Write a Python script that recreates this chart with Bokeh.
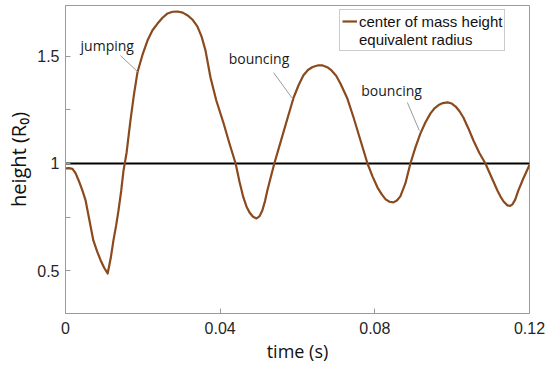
from bokeh.plotting import figure
from bokeh.models import Range1d, FixedTicker, Legend, LegendItem
from bokeh.core.properties import value
from bokeh.embed import file_html
from bokeh.resources import INLINE

# ---- data ----
time_s = [0.0, 0.0009, 0.0018, 0.0026, 0.0034, 0.0043, 0.0052, 0.0062, 0.0072,
          0.0082, 0.0091, 0.0100, 0.0109, 0.0117, 0.0124, 0.0131, 0.0137,
          0.0144, 0.0150, 0.0158, 0.0168, 0.0177, 0.0186, 0.0199, 0.0212,
          0.0225, 0.0238, 0.0251, 0.0264, 0.0277, 0.0290, 0.0303, 0.0315,
          0.0328, 0.0341, 0.0352, 0.0362, 0.0375, 0.0390, 0.0409, 0.0424,
          0.0440, 0.0450, 0.0460, 0.0468, 0.0476, 0.0485, 0.0494, 0.0502,
          0.0509, 0.0516, 0.0522, 0.0531, 0.0540, 0.0556, 0.0574, 0.0590,
          0.0603, 0.0615, 0.0627, 0.0639, 0.0652, 0.0665, 0.0677, 0.0688,
          0.0700, 0.0711, 0.0729, 0.0745, 0.0763, 0.0781, 0.0794, 0.0807,
          0.0818, 0.0828, 0.0838, 0.0848, 0.0857, 0.0866, 0.0879, 0.0892,
          0.0905, 0.0918, 0.0931, 0.0944, 0.0955, 0.0965, 0.0976, 0.0988,
          0.0999, 0.1009, 0.1019, 0.1029, 0.1042, 0.1055, 0.1070, 0.1086,
          0.1102, 0.1117, 0.1125, 0.1133, 0.1143, 0.1150, 0.1156, 0.1163,
          0.1171, 0.1184, 0.1197, 0.1200]
com_height = [0.977, 0.978, 0.975, 0.955, 0.921, 0.878, 0.828, 0.735, 0.642,
              0.590, 0.549, 0.515, 0.488, 0.560, 0.642, 0.712, 0.781,
              0.872, 0.967, 1.050, 1.200, 1.320, 1.423, 1.505, 1.572,
              1.620, 1.651, 1.678, 1.698, 1.706, 1.707, 1.702, 1.690,
              1.670, 1.638, 1.590, 1.526, 1.400, 1.293, 1.186, 1.093,
              1.000, 0.915, 0.842, 0.800, 0.772, 0.752, 0.744, 0.755,
              0.781, 0.825, 0.874, 0.937, 1.000, 1.098, 1.209, 1.307,
              1.365, 1.409, 1.435, 1.449, 1.456, 1.456, 1.448, 1.433,
              1.408, 1.372, 1.302, 1.214, 1.107, 1.000, 0.940, 0.888,
              0.856, 0.833, 0.822, 0.819, 0.828, 0.847, 0.907, 1.000,
              1.075, 1.140, 1.192, 1.233, 1.258, 1.272, 1.281, 1.284,
              1.279, 1.265, 1.243, 1.214, 1.163, 1.107, 1.050, 1.000,
              0.935, 0.874, 0.846, 0.823, 0.805, 0.803, 0.810, 0.832,
              0.874, 0.930, 0.981, 0.995]
equiv_radius = 1.0

x_ticks = [0, 0.04, 0.08, 0.12]
x_tick_labels = ["0", "0.04", "0.08", "0.12"]
y_ticks = [0.5, 0.75, 1.0, 1.25, 1.5]
y_tick_labels = ["0.5", "", "1", "", "1.5"]

ann_text = ["jumping", "bouncing", "bouncing"]
ann_x = [0.0039, 0.0422, 0.0765]
ann_y = [1.549, 1.488, 1.340]
lead_x0 = [0.0142, 0.0538, 0.0884]
lead_y0 = [1.502, 1.423, 1.284]
lead_x1 = [0.0189, 0.0587, 0.0915]
lead_y1 = [1.423, 1.302, 1.153]

AXIS_GRAY = "#9a9a9a"
TXT = "#262626"
BROWN = "#8a4a1e"

p = figure(width=550, height=367, output_backend="svg", toolbar_location=None,
           x_range=Range1d(0, 0.12), y_range=Range1d(0.302, 1.735),
           min_border_left=65, min_border_right=21, min_border_top=5,
           min_border_bottom=54)
p.grid.visible = False
p.outline_line_color = AXIS_GRAY
p.outline_line_width = 1
p.background_fill_color = "white"
p.border_fill_color = "white"

for ax in (p.xaxis[0], p.yaxis[0]):
    ax.axis_line_color = AXIS_GRAY
    ax.major_tick_line_color = AXIS_GRAY
    ax.major_tick_in = 5
    ax.major_tick_out = 0
    ax.minor_tick_line_color = None
    ax.major_label_text_font = "Liberation Sans"
    ax.major_label_text_font_size = "16px"
    ax.major_label_text_color = TXT
    ax.axis_label_text_font = "Open Sans"
    ax.axis_label_text_font_style = "normal"
    ax.axis_label_text_color = "#111111"

p.xaxis.ticker = FixedTicker(ticks=x_ticks)
p.xaxis.major_label_overrides = dict(zip(x_ticks, x_tick_labels))
p.xaxis.major_label_standoff = 8
p.xaxis.axis_label = "time (s)"
p.xaxis.axis_label_text_font_size = "18px"
p.xaxis.axis_label_standoff = 2

p.yaxis.ticker = FixedTicker(ticks=y_ticks)
p.yaxis.major_label_overrides = dict(zip(y_ticks, y_tick_labels))
p.yaxis.major_label_standoff = 6
p.yaxis.axis_label = "height (R\u2080)"
p.yaxis.axis_label_text_font_size = "20px"
p.yaxis.axis_label_standoff = 2

# equivalent radius line
p.line(x=[time_s[0], time_s[-1]], y=[equiv_radius, equiv_radius],
       line_color="black", line_width=2.2)
# center of mass height
r_com = p.line(x=time_s, y=com_height, line_color=BROWN, line_width=2.2,
               line_join="round")
# legend proxy for equivalent radius (thin gray line sample)
r_eq_leg = p.line(x=[], y=[], line_color="#8c8c8c", line_width=1)

# annotations
p.segment(x0=lead_x0, y0=lead_y0, x1=lead_x1, y1=lead_y1,
          line_color="#9a9a9a", line_width=1)
p.text(x=ann_x, y=ann_y, text=ann_text, text_font=value("Open Sans"),
       text_font_size="14px", text_color="#1a1a1a", text_baseline="middle",
       text_align="left")

legend = Legend(items=[LegendItem(label="center of mass height", renderers=[r_com]),
                       LegendItem(label="equivalent radius", renderers=[r_eq_leg])],
                location=(274, 262))
legend.label_text_font = "Liberation Sans"
legend.label_text_font_size = "15px"
legend.label_text_color = "#111111"
legend.border_line_color = AXIS_GRAY
legend.border_line_width = 1
legend.background_fill_alpha = 1
legend.padding = 2
legend.spacing = 0
legend.margin = 0
legend.glyph_width = 15
legend.glyph_height = 18
legend.label_height = 18
legend.label_standoff = 2
p.add_layout(legend, "center")

open("out.html", "w").write(file_html(p, INLINE))
